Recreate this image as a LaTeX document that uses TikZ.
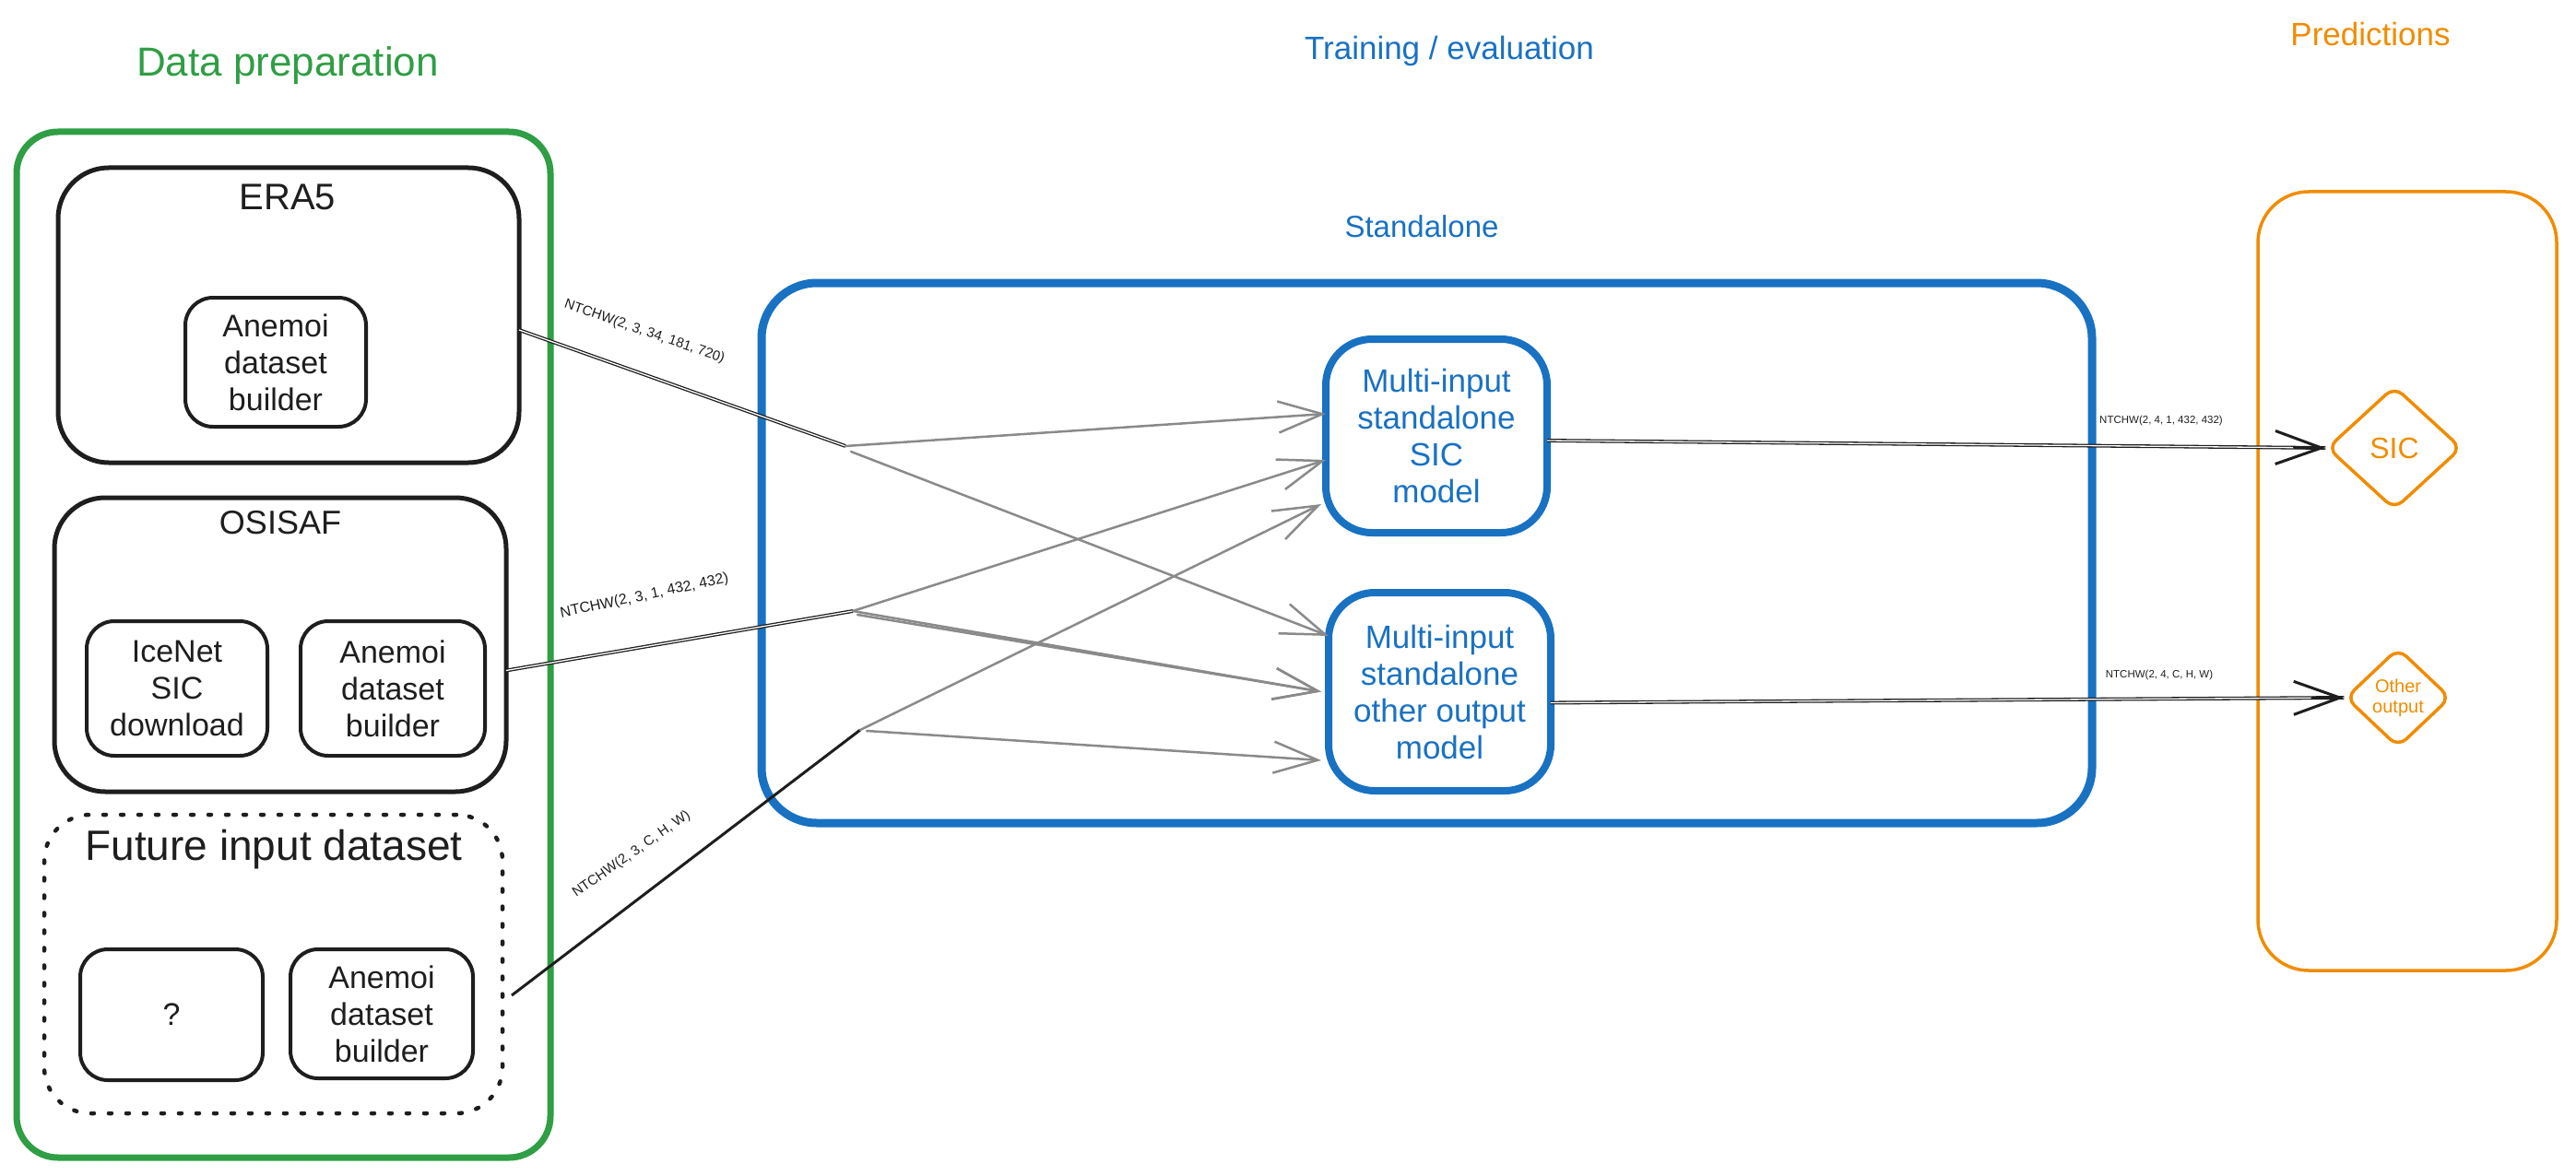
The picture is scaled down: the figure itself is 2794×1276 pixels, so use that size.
\documentclass[tikz,border=0pt]{standalone}
\usepackage{fontspec}
\setmainfont{Liberation Sans}
\usetikzlibrary{arrows.meta,shapes.geometric,calc}
\definecolor{cgreen}{HTML}{2F9E44}
\definecolor{cblue}{HTML}{1971C2}
\definecolor{corange}{HTML}{F08C00}
\definecolor{cblack}{HTML}{1E1E1E}
\definecolor{cgrey}{HTML}{8A8A8A}
\newcommand{\myfs}[2]{\fontsize{#1pt}{#2pt}\selectfont}
\begin{document}
\begin{tikzpicture}[x=1pt,y=-1pt,
  box/.style={draw, inner sep=0pt, outer sep=0pt},
  ttl/.style={inner sep=0pt},
  inbox/.style={box, draw=cblack, line width=4pt, rounded corners=30pt, align=center, font=\myfs{34}{40}, text=cblack},
  srcbox/.style={box, draw=cblack, line width=5pt, rounded corners=55pt},
  model/.style={box, draw=cblue, line width=8pt, rounded corners=50pt, align=center, font=\myfs{35}{40}, text=cblue},
  outd/.style={diamond, draw=corange, line width=3.5pt, inner sep=0pt, rounded corners=12pt, text=corange, align=center},
  lbl/.style={inner sep=0pt, text=cblack},
  dbl/.style={draw=cblack, line width=1.3pt, double=white, double distance=1.3pt},
  sgl/.style={draw=cblack, line width=3pt},
  garr/.style={draw=cgrey, line width=2.5pt, line cap=round, -{Straight Barb[length=48pt,width=34pt]}},
  barr/.style={draw=cblack, line width=3pt, line cap=round, -{Straight Barb[length=50pt,width=36pt]}}
]
\useasboundingbox (0,0) rectangle (2794,1276);

% titles
\node[ttl, text=cgreen, font=\myfs{44}{50}] (prept) at (312,71) {Data preparation};
\node[ttl, text=cblue, font=\myfs{35}{40}] (traint) at (1572,55) {Training / evaluation};
\node[ttl, text=corange, font=\myfs{35}{40}] (predt) at (2571,37) {Predictions};

% data preparation container
\node[box, draw=cgreen, line width=7pt, rounded corners=45pt, minimum width=579pt, minimum height=1113pt] (prep) at (307.5,699.5) {};

% ERA5
\node[srcbox, minimum width=500pt, minimum height=320pt] (era5) at (313,342) {};
\node[ttl, text=cblack, font=\myfs{40}{46}] (era5t) at (312,214) {ERA5};
\node[inbox, minimum width=196pt, minimum height=140pt] (an1) at (299,393) {Anemoi\\dataset\\builder};

% OSISAF
\node[srcbox, minimum width=490pt, minimum height=319pt] (osi) at (304,699.5) {};
\node[ttl, text=cblack, font=\myfs{36}{42}] (osit) at (304,567) {OSISAF};
\node[inbox, minimum width=196pt, minimum height=146pt] (ice) at (192,747) {IceNet\\SIC\\download};
\node[inbox, minimum width=200pt, minimum height=146pt] (an2) at (426,747) {Anemoi\\dataset\\builder};

% Future input dataset
\node[box, draw=cblack, line width=4.5pt, line cap=round, dash pattern=on 3pt off 16pt, rounded corners=50pt, minimum width=497pt, minimum height=324pt] (fut) at (296.5,1046) {};
\node[ttl, text=cblack, font=\myfs{46}{52}] (futt) at (297,922) {Future input dataset};
\node[inbox, minimum width=198pt, minimum height=142pt] (unk) at (186,1101) {?};
\node[inbox, minimum width=198pt, minimum height=140pt] (an3) at (414,1100) {Anemoi\\dataset\\builder};

% Standalone
\node[ttl, text=cblue, font=\myfs{33}{38}] (stdt) at (1542,246) {Standalone};
\node[box, draw=cblue, line width=9pt, rounded corners=60pt, minimum width=1443pt, minimum height=586pt] (std) at (1547.5,600) {};
\node[model, minimum width=240pt, minimum height=210pt] (m1) at (1558,473) {Multi-input\\standalone\\SIC\\model};
\node[model, minimum width=241pt, minimum height=215pt] (m2) at (1561.5,750.5) {Multi-input\\standalone\\other output\\model};

% Predictions
\node[box, draw=corange, line width=3.5pt, rounded corners=55pt, minimum width=324pt, minimum height=845pt] (pred) at (2611,630.5) {};
\node[outd, minimum width=146pt, minimum height=134pt, font=\myfs{32}{36}] (sic) at (2597,486) {SIC};
\node[outd, minimum width=114pt, minimum height=108pt, font=\myfs{20}{22}] (oth) at (2601,757) {Other\\output};

% junctions
\coordinate (j1) at (917,484);
\coordinate (j1b) at (923,490);
\coordinate (j2) at (925,663);
\coordinate (j2b) at (930,667);
\coordinate (j3) at (933,792);
\coordinate (j3b) at (940,793);

% inputs
\draw[dbl] ([yshift=-16pt]era5.east) -- (j1);
\draw[dbl] ([yshift=-28pt]osi.east) -- (j2);
\draw[sgl] ([xshift=10pt,yshift=-34pt]fut.east) -- (j3);

\node[lbl, rotate=-19, font=\myfs{15}{18}] (l1) at (699,360) {NTCHW(2, 3, 34, 181, 720)};
\node[lbl, rotate=12, font=\myfs{16}{19}] (l2) at (699,647) {NTCHW(2, 3, 1, 432, 432)};
\node[lbl, rotate=35, font=\myfs{15}{18}] (l3) at (685,927) {NTCHW(2, 3, C, H, W)};

% fan-out to models
\draw[garr] (j1) -- ([yshift=24pt]m1.west);
\draw[garr] (j1b) -- ([yshift=60.5pt]m2.west);
\draw[garr] (j2) -- ([yshift=-26pt]m1.west);
\draw[garr] (j2) -- ([xshift=-8pt]m2.west);
\draw[garr] (j2b) -- ([xshift=-8pt]m2.west);
\draw[garr] (j3) -- ([xshift=-5pt,yshift=-74pt]m1.west);
\draw[garr] (j3b) -- ([xshift=-8pt,yshift=-74.5pt]m2.west);

% outputs
\draw[dbl] ([yshift=-5pt]m1.east) -- (sic.west);
\draw[barr] ($([yshift=-5pt]m1.east)!0.96!(sic.west)$) -- (sic.west);
\draw[dbl] ([yshift=-12pt]m2.east) -- (oth.west);
\draw[barr] ($([yshift=-12pt]m2.east)!0.96!(oth.west)$) -- (oth.west);

\node[lbl, font=\myfs{11.5}{14}] (l4) at (2344,457) {NTCHW(2, 4, 1, 432, 432)};
\node[lbl, font=\myfs{11.5}{14}] (l5) at (2342,733) {NTCHW(2, 4, C, H, W)};
\end{tikzpicture}
\end{document}
